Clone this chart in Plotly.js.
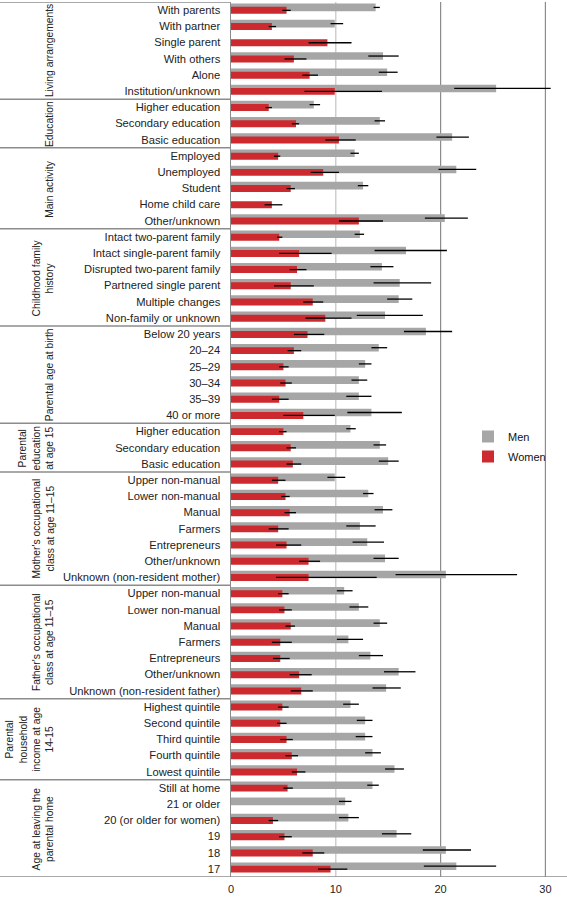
<!DOCTYPE html>
<html><head><meta charset="utf-8">
<script src="https://cdn.plot.ly/plotly-3.0.1.min.js"></script>
<style>html,body{margin:0;padding:0;background:#fff;} #chart{width:567px;height:897px;}</style>
</head><body><div id="chart"></div>
<script>
const groupLabels = [
  "Living arrangements",
  "Education",
  "Main activity",
  "Childhood family<br>history",
  "Parental age at birth",
  "Parental<br>education<br>at age 15",
  "Mother's occupational<br>class at age 11–15",
  "Father's occupational<br>class at age 11–15",
  "Parental<br>household<br>income at age<br>14-15",
  "Age at leaving the<br>parental home"
];
const groupSizes = [6, 3, 5, 6, 6, 3, 7, 7, 5, 6];
const categories = [
  "With parents","With partner","Single parent","With others","Alone","Institution/unknown",
  "Higher education","Secondary education","Basic education",
  "Employed","Unemployed","Student","Home child care","Other/unknown",
  "Intact two-parent family","Intact single-parent family","Disrupted two-parent family","Partnered single parent","Multiple changes","Non-family or unknown",
  "Below 20 years","20–24","25–29","30–34","35–39","40 or more",
  "Higher education","Secondary education","Basic education",
  "Upper non-manual","Lower non-manual","Manual","Farmers","Entrepreneurs","Other/unknown","Unknown (non-resident mother)",
  "Upper non-manual","Lower non-manual","Manual","Farmers","Entrepreneurs","Other/unknown","Unknown (non-resident father)",
  "Highest quintile","Second quintile","Third quintile","Fourth quintile","Lowest quintile",
  "Still at home","21 or older","20 (or older for women)","19","18","17"
];
const menValues = [13.8,9.9,null,14.5,14.9,25.3, 7.9,14.2,21.1, 11.8,21.5,12.6,null,20.4,
  12.3,16.7,14.4,16.1,16.0,14.7, 18.6,14.1,12.8,12.2,12.2,13.4, 11.4,14.2,15.0,
  9.9,13.1,14.5,12.3,13.0,14.7,20.5, 10.8,12.2,14.2,11.2,13.3,16.0,14.8,
  11.4,12.8,12.8,13.5,15.6, 13.5,10.9,11.2,15.8,20.5,21.5];
const menLower = [13.6,9.5,null,13.1,14.1,21.3, 7.5,13.7,19.6, 11.4,19.8,12.1,null,18.5,
  11.8,13.7,13.3,13.6,14.9,12.0, 16.5,13.4,12.2,11.5,11.0,11.1, 11.0,13.6,14.1,
  9.2,12.6,13.7,11.0,11.6,13.6,15.7, 10.1,11.3,13.6,10.1,12.2,14.6,13.5,
  10.7,12.0,11.9,12.8,14.7, 13.0,10.3,10.3,14.4,18.3,18.4];
const menUpper = [14.2,10.7,null,16.0,15.9,30.5, 8.5,14.7,22.7, 12.2,23.4,13.1,null,22.6,
  12.7,20.6,15.5,19.1,17.3,18.3, 21.1,14.9,13.4,13.0,13.4,16.3, 11.9,14.8,16.0,
  10.9,13.6,15.4,13.8,14.6,16.0,27.3, 11.6,13.1,14.9,12.6,14.5,17.6,16.2,
  12.2,13.5,13.5,14.3,16.5, 14.1,11.5,12.2,17.2,22.9,25.3];
const womenValues = [5.3,3.9,9.2,6.0,7.5,9.9, 3.6,6.2,10.3, 4.5,8.8,5.7,3.9,12.2,
  4.6,6.5,6.3,5.7,7.8,9.0, 7.3,6.0,5.0,5.2,4.6,6.9, 5.0,5.7,5.9,
  4.5,5.2,5.6,4.5,5.3,7.4,7.4, 4.9,5.1,5.7,4.7,4.7,6.5,6.7,
  4.9,4.7,5.3,5.8,6.3, 5.4,null,4.0,5.1,7.8,9.5];
const womenLower = [4.9,3.6,7.4,5.1,6.8,7.0, 3.3,5.8,9.0, 4.1,7.6,5.3,3.2,10.3,
  4.4,4.6,5.6,4.1,6.9,7.1, 6.0,5.4,4.6,4.7,3.9,5.0, 4.6,5.3,5.3,
  3.9,4.8,5.1,3.6,4.3,6.5,4.3, 4.5,4.6,5.2,3.9,4.0,5.6,5.7,
  4.5,4.4,4.7,5.2,5.8, 5.0,null,3.6,4.6,6.8,8.3];
const womenUpper = [5.7,4.3,11.5,7.2,8.3,14.4, 3.9,6.5,11.9, 4.7,10.3,6.1,4.9,14.5,
  4.9,9.6,7.2,7.9,8.8,11.5, 8.9,6.7,5.5,5.8,5.5,9.9, 5.3,6.2,6.7,
  5.2,5.6,6.2,5.5,6.7,8.5,13.9, 5.5,5.8,6.1,5.8,5.6,7.7,7.8,
  5.5,5.3,5.9,6.4,7.1, 5.9,null,4.5,5.8,8.9,11.1];
const seriesNames = ["Men", "Women"];
const xTicks = [0, 10, 20, 30];

const positions = categories.map((_, i) => i);
const plus = (v, hi) => v.map((d, i) => d == null ? null : hi[i] - d);
const minus = (v, lo) => v.map((d, i) => d == null ? null : d - lo[i]);

const W = 567, H = 897;
const margin = {l: 231, r: 0, t: 2, b: 20};
const plotW = W - margin.l - margin.r;
const plotH = H - margin.t - margin.b;
const leftEdge = -margin.l / plotW;
const fontFam = '"Liberation Sans", Arial, Helvetica, sans-serif';

const traces = [
  {type: 'bar', orientation: 'h', name: seriesNames[0], legendgroup: 'm',
   y: positions, x: menValues, offset: -0.4, width: 0.47,
   marker: {color: '#a6a6a6', line: {width: 0}},
   error_x: {type: 'data', symmetric: false, array: plus(menValues, menUpper),
             arrayminus: minus(menValues, menLower), color: '#000', thickness: 1.3, width: 0}},
  {type: 'bar', orientation: 'h', name: seriesNames[1], legendgroup: 'w',
   y: positions, x: womenValues, offset: -0.2, width: 0.43,
   marker: {color: '#cc2a2e', line: {width: 0}},
   error_x: {type: 'data', symmetric: false, array: plus(womenValues, womenUpper),
             arrayminus: minus(womenValues, womenLower), color: '#000', thickness: 1.3, width: 0}}
];

const shapes = [];
const annotations = [];
let start = 0;
shapes.push({type: 'line', xref: 'paper', yref: 'y', x0: leftEdge, x1: 0, y0: -0.5, y1: -0.5,
             line: {color: '#8c8c8c', width: 1.5}});
groupSizes.forEach((n, g) => {
  const end = start + n;
  annotations.push({xref: 'paper', yref: 'y', x: (57 - margin.l) / plotW, xanchor: 'right',
    y: start + (n - 1) / 2, yanchor: 'middle', text: groupLabels[g], textangle: -90,
    showarrow: false, align: 'center', font: {family: fontFam, size: 10.3, color: '#222'}});
  shapes.push({type: 'line', xref: 'paper', yref: 'y', x0: leftEdge, x1: end === categories.length ? 1 : 0,
               y0: end - 0.5, y1: end - 0.5, line: {color: '#8c8c8c', width: 1.5}});
  start = end;
});
const gridColors = {10: '#c4c4c4', 20: '#8c8c8c', 30: '#8c8c8c'};
xTicks.filter(t => t > 0).forEach(t => {
  shapes.push({type: 'line', xref: 'x', yref: 'paper', x0: t, x1: t, y0: 0, y1: 1,
               layer: 'below', line: {color: gridColors[t], width: 1.2}});
});

const layout = {
  width: W, height: H, margin: margin,
  paper_bgcolor: '#fff', plot_bgcolor: '#fff',
  barmode: 'overlay',
  font: {family: fontFam, size: 11.2, color: '#222'},
  showlegend: true,
  legend: {x: (468 - margin.l) / plotW, y: 1 - (422 - margin.t) / plotH,
           xanchor: 'left', yanchor: 'top', font: {size: 11, family: fontFam, color: '#111'},
           traceorder: 'grouped', tracegroupgap: 1, bgcolor: 'rgba(0,0,0,0)', itemwidth: 30},
  xaxis: {range: [0, 32.06], tickvals: xTicks, ticktext: xTicks.map(String), showgrid: false,
          zeroline: false, showline: false, ticks: '', ticklabelstandoff: 4,
          tickfont: {size: 11, family: fontFam, color: '#222'}, fixedrange: true},
  yaxis: {range: [categories.length - 0.5, -0.5], tickvals: positions, ticktext: categories,
          showgrid: false, zeroline: false, showline: true, linecolor: '#8c8c8c', linewidth: 1.5,
          ticks: '', ticklabelstandoff: 7, tickfont: {size: 11.2, family: fontFam, color: '#222'},
          fixedrange: true},
  shapes: shapes,
  annotations: annotations
};

Plotly.newPlot('chart', traces, layout, {displayModeBar: false, staticPlot: true});
</script>
</body></html>
